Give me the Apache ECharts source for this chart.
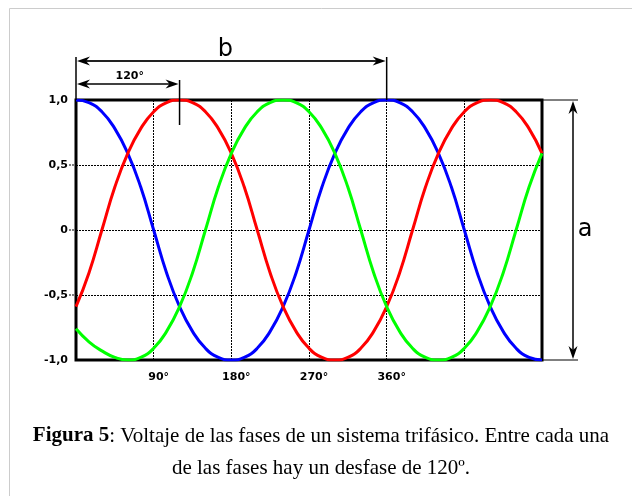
<!DOCTYPE html>
<html>
<head>
    <meta charset="utf-8">
    <script src="https://cdn.jsdelivr.net/npm/echarts@6/dist/echarts.min.js"></script>
    <style>
        html, body {
            margin: 0;
            padding: 0;
            background: #fff;
        }
        #myChart {
            width: 632px;
            height: 496px;
        }
    </style>
</head>
<body>
<div id="myChart"></div>
<script>
    // angulo (grados) cada 15
    var angles = [0, 15, 30, 45, 60, 75, 90, 105, 120, 135, 150, 165, 180,
        195, 210, 225, 240, 255, 270, 285, 300, 315, 330, 345, 360,
        375, 390, 405, 420, 435, 450, 465, 480, 495, 510, 525, 540];

    // valores
    var faseAzul = [1, .98, .91, .78, .59, .33, 0, -.33, -.59, -.78, -.91, -.98, -1,
        -.98, -.91, -.78, -.59, -.33, 0, .33, .59, .78, .91, .98, 1,
        .98, .91, .78, .59, .33, 0, -.33, -.59, -.78, -.91, -.98, -1];
    var faseRoja = [-.59, -.33, 0, .33, .59, .78, .91, .98, 1, .98, .91, .78, .59,
        .33, 0, -.33, -.59, -.78, -.91, -.98, -1, -.98, -.91, -.78, -.59,
        -.33, 0, .33, .59, .78, .91, .98, 1, .98, .91, .78, .59];
    var faseVerde = [-.76, -.86, -.93, -.98, -1, -.98, -.91, -.78, -.59, -.33, 0, .33, .59,
        .78, .91, .98, 1, .98, .91, .78, .59, .33, 0, -.33, -.59,
        -.78, -.91, -.98, -1, -.98, -.91, -.78, -.59, -.33, 0, .33, .59];

    var xTickValues = [90, 180, 270, 360];
    var xTickLabels = ['90°', '180°', '270°', '360°'];
    var yTickValues = [-1, -0.5, 0, 0.5, 1];
    var yTickLabels = ['-1,0', '-0,5', '0', '0,5', '1,0'];

    var captionBold = 'Figura 5';
    var captionLine1 = ': Voltaje de las fases de un sistema trifásico. Entre cada una';
    var captionLine2 = 'de las fases hay un desfase de 120º.';

    function pairs(ys) {
        var arr = [];
        for (var i = 0; i < angles.length; i++) {
            arr.push([angles[i], ys[i]]);
        }
        return arr;
    }

    function fase(name, color, ys) {
        return {
            name: name,
            type: 'line',
            smooth: true,
            symbol: 'none',
            data: pairs(ys),
            lineStyle: {color: color, width: 3},
            itemStyle: {color: color}
        };
    }

    var labelFont = {
        fontFamily: 'DejaVu Sans',
        fontSize: 11,
        fontWeight: 'bold',
        color: '#000'
    };

    let myChart = echarts.init(document.getElementById('myChart'));
    myChart.setOption({
        backgroundColor: '#fff',
        animation: false,
        grid: {
            left: 76,
            top: 100,
            right: 90,
            bottom: 136,
            show: true,
            borderColor: '#000',
            borderWidth: 3,
            z: 3
        },
        xAxis: {
            type: 'value',
            min: 0,
            max: 540,
            interval: 90,
            axisLine: {show: false},
            axisTick: {show: false},
            splitLine: {show: true, lineStyle: {color: '#000', width: 1, type: [2, 1]}},
            axisLabel: Object.assign({
                margin: 12,
                padding: [0, 0, 0, 10],   // el numero queda centrado, el ° cuelga
                formatter: function (v) {
                    var i = xTickValues.indexOf(v);
                    return i < 0 ? '' : xTickLabels[i];
                }
            }, labelFont)
        },
        yAxis: {
            type: 'value',
            min: -1,
            max: 1,
            interval: 0.5,
            axisLine: {show: false},
            axisTick: {show: false},
            splitLine: {show: true, lineStyle: {color: '#000', width: 1, type: [2, 1]}},
            axisLabel: Object.assign({
                margin: 8,
                formatter: function (v) {
                    var i = yTickValues.indexOf(v);
                    return i < 0 ? '' : yTickLabels[i];
                }
            }, labelFont)
        },
        series: [
            fase('azul', '#0000ff', faseAzul),
            fase('roja', '#ff0000', faseRoja),
            fase('verde', '#00ff00', faseVerde)
        ]
    });

    // cotas (a, b, 120°) puestas con la escala del grafico
    function px(x, y) {
        return myChart.convertToPixel({gridIndex: 0}, [x, y]);
    }

    function line(x1, y1, x2, y2, w, c, dash) {
        return {
            type: 'line',
            shape: {x1: x1, y1: y1, x2: x2, y2: y2},
            style: {stroke: c || '#000', lineWidth: w, lineDash: dash || null},
            z: 10
        };
    }

    function head(x, y, dir) {
        var L = 13, W = 4.5, N = 9, pts;
        if (dir === 'r') pts = [[x, y], [x - L, y - W], [x - N, y], [x - L, y + W]];
        if (dir === 'l') pts = [[x, y], [x + L, y - W], [x + N, y], [x + L, y + W]];
        if (dir === 'u') pts = [[x, y], [x - W, y + L], [x, y + N], [x + W, y + L]];
        if (dir === 'd') pts = [[x, y], [x - W, y - L], [x, y - N], [x + W, y - L]];
        return {type: 'polygon', shape: {points: pts}, style: {fill: '#000'}, z: 11};
    }

    var p0 = px(0, 1), p120 = px(120, 1), p360 = px(360, 1);
    var pTop = px(540, 1), pBot = px(540, -1);
    var yb = p0[1] - 39, y120 = p0[1] - 16, xa = pTop[0] + 31;

    var graphics = [
        // marco exterior
        line(9.5, 8.5, 640, 8.5, 1, '#cccccc'),
        line(9.5, 8.5, 9.5, 500, 1, '#cccccc'),
        // cota b
        line(p0[0], yb - 4, p0[0], p0[1], 1.5),
        line(p360[0], yb - 4, p360[0], p360[1], 1.5),
        line(p0[0] + 6, yb, p360[0] - 6, yb, 2, '#222'),
        head(p0[0] + 1, yb, 'l'),
        head(p360[0] - 1, yb, 'r'),
        {
            type: 'text', x: (p0[0] + p360[0]) / 2 - 6, y: yb - 11, z: 12,
            style: {text: 'b', font: '24px "DejaVu Sans"', fill: '#000', align: 'center', verticalAlign: 'middle'}
        },
        // cota 120°
        line(p120[0], y120 - 4, p120[0], p120[1] + 25, 1.5),
        line(p0[0] + 6, y120, p120[0] - 6, y120, 1.5),
        head(p0[0] + 1, y120, 'l'),
        head(p120[0] - 1, y120, 'r'),
        {
            type: 'text', x: (p0[0] + p120[0]) / 2 + 2, y: y120 - 8, z: 12,
            style: {text: '120°', font: 'bold 11px "DejaVu Sans"', fill: '#000', align: 'center', verticalAlign: 'middle'}
        },
        // cota a
        line(pTop[0], pTop[1], pTop[0] + 36, pTop[1], 1),
        line(pBot[0], pBot[1], pBot[0] + 36, pBot[1], 1),
        line(xa, pTop[1] + 6, xa, pBot[1] - 6, 1.5),
        head(xa, pTop[1] + 1, 'u'),
        head(xa, pBot[1] - 1, 'd'),
        {
            type: 'text', x: xa + 12, y: (pTop[1] + pBot[1]) / 2, z: 12,
            style: {text: 'a', font: '24px "DejaVu Sans"', fill: '#000', align: 'center', verticalAlign: 'middle'}
        },
        // pie de figura
        {
            type: 'text', x: 321, y: 420, z: 12,
            style: {
                text: '{b|' + captionBold + '}{n|' + captionLine1 + '}\n{n|' + captionLine2 + '}',
                align: 'center',
                verticalAlign: 'top',
                fill: '#000',
                rich: {
                    b: {fontFamily: 'Liberation Serif', fontSize: 21, fontWeight: 'bold', lineHeight: 32, fill: '#000'},
                    n: {fontFamily: 'Liberation Serif', fontSize: 21, lineHeight: 32, fill: '#000'}
                }
            }
        }
    ];

    // marcas cortas a la izquierda, solo en los valores interiores
    yTickValues.forEach(function (v) {
        if (v === -1 || v === 1) return;
        var p = px(0, v);
        graphics.push(line(p[0] - 7, p[1], p[0], p[1], 1, '#000', [2, 1]));
    });

    myChart.setOption({graphic: graphics});
</script>
</body>
</html>
